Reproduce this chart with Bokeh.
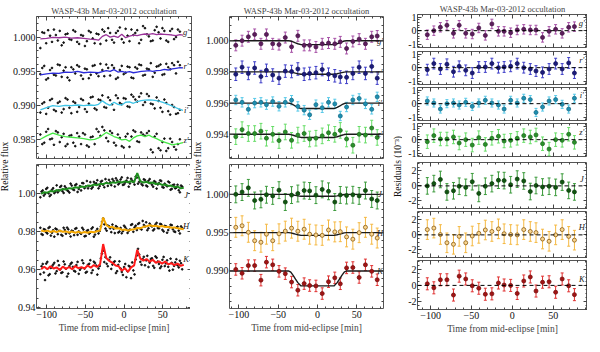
import numpy as np
from bokeh.plotting import figure
from bokeh.layouts import row, column
from bokeh.models import (ColumnDataSource, Whisker, TeeHead, Span, LinearAxis,
                          SingleIntervalTicker, NumeralTickFormatter, Range1d)
from bokeh.core.properties import value
from bokeh.embed import file_html
from bokeh.resources import INLINE

FONT = "Liberation Serif"
TITLE = "WASP-43b Mar-03-2012 occultation"
XLABEL = "Time from mid-eclipse [min]"

# ---------------- data ----------------
# left-top: raw optical light curves (deviation from display offset, ppt)
t_top_line = [-108, -100, -92, -84, -76, -68, -60, -52, -44, -38, -33, -28, -23, -18, -13, -8, -3,
              2, 7, 12, 17, 22, 27, 32, 37, 42, 47, 52, 57, 62, 67, 72, 76]
g_line = [-0.25, -0.2, -0.05, -0.1, 0.0, -0.15, -0.1, -0.2, -0.3, -0.35, -0.45, 0.1, 0.35, 0.0, 0.15, -0.05, 0.4,
          -0.1, 0.15, 0.3, 0.2, 0.35, 0.45, 0.4, 0.5, 0.35, 0.45, 0.4, 0.35, 0.3, 0.2, 0.35, 0.3]
r_line = [-0.5, -0.35, -0.25, -0.3, -0.1, -0.15, 0.0, -0.2, -0.1, -0.15, -0.2, -0.05, 0.1, 0.0, 0.25, -0.1, 0.0,
          -0.15, -0.05, -0.2, -0.1, 0.0, 0.05, 0.1, 0.0, 0.1, 0.15, 0.3, 0.2, 0.35, 0.45, 0.55, 0.5]
i_line = [-0.6, -0.3, 0.0, -0.1, 0.05, 0.0, 0.1, 0.0, 0.1, 0.05, 0.2, 0.7, 0.3, 0.05, 0.5, 0.2, 0.1,
          0.5, 0.55, 0.35, 0.6, 0.75, 0.8, 0.85, 0.8, 0.75, 0.6, 0.4, 0.2, -0.05, -0.3, -0.55, -0.7]
z_line = [0.1, 0.6, 1.0, 0.7, 0.5, 0.4, 0.3, 0.2, 0.0, 0.1, 0.3, 0.7, 1.1, 0.8, 0.5, 0.3, 0.0,
          0.1, -0.2, 0.3, 0.6, 0.7, 0.5, 0.7, 0.4, 0.2, -0.1, -0.3, -0.5, -0.7, -0.6, -0.5, -0.4]

t_top_dots = [-108, -103, -98, -93, -88, -83, -78, -73, -68, -63, -58, -53, -48, -43, -38, -33, -28, -23,
              -18, -13, -8, -3, 2, 7, 12, 17, 22, 27, 32, 37, 42, 47, 52, 57, 62, 67, 72]
g_dots = [-1.6, 0.6, 1.0, -0.7, 0.3, 0.9, -0.8, 0.5, -0.4, 0.8, -1.0, 0.2, -0.6, 0.7, -0.9, 0.4, 1.1, -0.5,
          0.6, -0.8, 0.9, -0.3, 1.2, -0.6, 0.3, 1.0, -0.4, 1.3, 0.1, -0.5, 1.5, -0.2, 0.9, -0.7, 1.2, 0.0, 0.8]
r_dots = [-0.4, 0.8, -1.0, 0.5, -0.6, 0.9, 0.1, -0.9, 0.6, -0.3, 0.7, -1.1, 0.3, -0.5, 0.9, -0.7, 0.2, 1.0,
          -0.6, 0.5, -0.9, 0.8, -0.2, 0.6, -1.0, 0.4, 0.9, -0.5, 0.3, -0.8, 0.7, 1.0, -0.4, 0.6, 1.2, -0.3, 0.9]
i_dots = [-1.0, 0.5, -0.3, 1.0, -0.8, 0.6, -0.5, 0.9, -1.1, 0.4, -0.2, 0.8, -0.9, 1.2, -0.4, 0.9, 1.5, -0.3,
          0.8, -0.6, 1.1, 0.2, 1.0, -0.2, 1.3, 0.6, 1.8, 0.5, 1.4, 0.2, 1.2, -0.3, 0.9, -0.8, 0.1, -1.2, -0.6]
z_dots = [0.8, -0.4, 1.6, 0.2, 1.3, -0.3, 0.9, -0.6, 0.7, -0.9, 0.5, 1.0, -0.8, 0.4, -0.6, 1.2, 1.9, 0.3,
          1.3, -0.4, 0.8, -0.9, 0.5, -1.0, 1.4, -0.2, 1.1, 0.6, 1.3, -1.8, 0.9, -1.5, 0.2, -1.2, -0.3, -1.4, 0.1]
t_top_dots2 = [-105.5, -100.5, -95.5, -90.5, -85.5, -80.5, -75.5, -70.5, -65.5, -60.5, -55.5, -50.5,
               -45.5, -40.5, -35.5, -30.5, -25.5, -20.5, -15.5, -10.5, -5.5, -0.5, 4.5, 9.5, 14.5, 19.5,
               24.5, 29.5, 34.5, 39.5, 44.5, 49.5, 54.5, 59.5, 64.5, 69.5]
g_dots2 = [0.7, -0.9, 0.2, 1.1, -0.5, -1.2, 0.4, -0.3, 1.0, -0.7, 0.3, -1.3, 0.9, -0.2, 0.5, -1.0, 0.8, 1.3,
           -0.4, 0.6, 1.4, -0.8, 0.2, 1.1, 0.6, -0.9, 1.6, 0.4, -0.6, 1.0, 0.7, 1.3, -0.5, 0.9, -0.3, 1.1]
r_dots2 = [0.5, -1.2, 0.2, -0.5, 1.0, -0.8, 0.6, -1.3, 0.3, 0.9, -0.6, 0.4, -1.0, 0.8, -0.3, 1.1, -0.7, 0.5,
           0.9, -1.1, 0.2, -0.4, 0.7, -0.9, 0.6, 1.0, -0.6, 0.4, 1.2, -0.2, 0.8, -0.5, 1.1, 0.3, 0.9, 1.4]
i_dots2 = [0.3, -1.2, 0.8, -0.6, 0.4, -1.0, 1.1, -0.3, 0.6, -0.9, 1.0, -0.5, 0.3, 1.3, -0.6, 0.8, -0.2, 1.2,
           0.2, 1.5, 0.4, 1.1, -0.1, 1.6, 0.9, 1.3, 0.1, 1.7, 0.3, -0.4, 0.7, -0.9, 0.4, -1.3, -0.2, -1.1]
z_dots2 = [-0.6, 1.2, 0.1, -0.7, 1.1, 0.4, -0.9, 0.6, -0.4, 1.0, -0.6, 0.8, -1.0, 0.5, 1.6, 0.6, 1.4, -0.2,
           1.0, -0.8, 0.3, -1.1, 0.9, 0.5, 1.2, -0.3, 0.8, 1.0, -1.4, 0.5, -1.2, -0.3, -1.6, 0.2, -1.0, -0.6]

# left-bottom: raw near-IR light curves (ppt)
t_bot_line = [-107, -103, -99, -95, -91, -87, -83, -79, -75, -71, -67, -63, -59, -55, -51, -47, -43, -39,
              -35, -31, -27, -23, -19, -15, -11, -7, -3, 1, 5, 9, 13, 17, 21, 25, 29, 33, 37, 41, 45, 49,
              53, 57, 61, 65, 69, 73, 77]
J_line = [0.0, 0.9, 0.6, 1.5, 1.2, 2.0, 1.7, 2.6, 2.3, 3.0, 2.8, 3.5, 3.2, 3.9, 3.6, 4.4, 4.2, 4.9, 4.6, 5.3,
          5.1, 5.8, 5.4, 6.1, 5.8, 6.5, 6.0, 6.6, 6.1, 6.7, 6.2, 11.0, 6.6, 6.0, 6.4, 5.6, 6.0, 5.2, 5.5, 4.7,
          5.0, 4.2, 4.4, 3.6, 3.9, 2.9, 3.2]
H_line = [0.7, 0.2, 0.6, -0.1, 0.4, -0.2, 0.5, 0.0, 0.2, -0.4, 0.1, -0.5, 0.0, -0.6, -0.1, -0.5, 0.0, -0.3,
          0.3, 0.6, 7.5, 3.6, 2.4, 2.6, 1.7, 1.9, 1.0, 1.2, 0.6, 1.1, 1.3, 2.0, 1.8, 2.6, 2.9, 3.4, 3.0, 3.2,
          2.7, 3.0, 2.5, 2.6, 2.1, 2.3, 1.8, 1.6, 1.3]
K_line = [0.3, 1.5, 0.2, 1.8, 0.6, 1.2, -0.2, 1.6, 0.4, 1.4, 0.2, 1.9, 0.8, 1.3, 0.6, 2.2, 1.0, 2.4, 1.4, 2.8,
          13.5, 6.2, 4.6, 3.6, 2.2, 1.8, -0.6, 0.8, -1.2, 1.2, 2.3, 10.5, 5.8, 4.8, 5.6, 4.2, 5.2, 3.6, 4.4,
          3.2, 4.3, 2.8, 3.4, 2.4, 3.2, 2.0, 2.6]

t_bot_dots = [-108, -105, -102, -99, -96, -93, -90, -87, -84, -81, -78, -75, -72, -69, -66, -63, -60, -57,
              -54, -51, -48, -45, -42, -39, -36, -33, -30, -27, -24, -21, -18, -15, -12, -9, -6, -3, 0, 3,
              6, 9, 12, 15, 18, 21, 24, 27, 30, 33, 36, 39, 42, 45, 48, 51, 54, 57, 60, 63, 66, 69, 72, 75]
J_dots = [-1.8, 1.8, 0.0, 3.2, -1.2, 2.2, 0.4, 4.5, 1.8, 4.2, 0.5, 3.1, 1.4, 5.4, 2.4, 4.6, 1.0, 4.1, 5.7, 3.0,
          6.8, 4.1, 2.8, 6.3, 5.6, 2.9, 6.4, 4.8, 7.8, 4.2, 6.1, 7.8, 3.9, 7.1, 5.7, 8.7, 5.0, 7.0, 3.8, 8.0,
          6.2, 9.1, 5.4, 6.7, 4.5, 7.3, 3.9, 7.8, 4.8, 6.7, 2.8, 5.7, 6.8, 3.3, 4.6, 6.5, 2.2, 4.6, 2.9, 4.8,
          0.8, 3.8]
H_dots = [2.1, -1.6, 1.1, -0.9, 2.5, -0.5, -2.6, 1.3, 0.5, -1.6, 2.1, -1.0, 1.3, -2.5, 0.3, 1.6, -1.6, -0.5,
          2.1, -2.4, 0.5, -1.0, 1.6, -2.6, 0.5, -0.9, 2.8, 7.0, 1.7, 3.3, 1.8, 3.8, -0.7, 2.4, 0.1, -0.8, 3.2,
          1.4, 0.5, 3.6, 0.0, 3.2, 4.1, 1.7, 5.7, 2.8, 0.8, 4.3, 2.8, 1.4, 4.7, 1.8, 3.9, 0.2, 2.9, 0.9, 3.7,
          1.3, -0.1, 2.7, -0.9, 1.9]
K_dots = [-2.4, 3.0, -5.5, 4.1, -2.4, 1.7, 3.6, -0.8, 2.3, -1.7, 4.3, 0.5, -2.1, 3.0, 1.5, -1.0, 4.1, -0.1,
          4.9, 0.6, -1.1, 3.1, -1.7, 4.2, 2.2, 0.6, 6.0, 10.0, 6.6, 1.8, 6.5, 2.7, 4.4, -0.8, 4.4, -1.2, 1.4,
          -4.0, 2.0, -4.5, -0.4, 5.4, 11.0, 4.1, 5.6, 2.3, 7.3, 3.7, 6.0, 1.0, 6.3, 3.0, 1.7, 6.7, 3.3, 1.5,
          5.8, 0.0, 3.8, 2.3, 4.7, 0.2]
t_bot_dots2 = [-106.5, -103.5, -100.5, -97.5, -94.5, -91.5, -88.5, -85.5, -82.5, -79.5, -76.5, -73.5, -70.5,
               -67.5, -64.5, -61.5, -58.5, -55.5, -52.5, -49.5, -46.5, -43.5, -40.5, -37.5, -34.5, -31.5,
               -28.5, -25.5, -22.5, -19.5, -16.5, -13.5, -10.5, -7.5, -4.5, -1.5, 1.5, 4.5, 7.5, 10.5, 13.5,
               16.5, 19.5, 22.5, 25.5, 28.5, 31.5, 34.5, 37.5, 40.5, 43.5, 46.5, 49.5, 52.5, 55.5, 58.5, 61.5,
               64.5, 67.5, 70.5, 73.5]
J_dots2 = [1.2, -0.9, 2.6, 0.3, -0.5, 3.0, 1.1, 0.8, 3.6, 1.4, 4.0, 1.9, 0.7, 4.4, 2.0, 5.1, 2.6, 1.8, 5.6, 3.9,
           2.9, 6.2, 3.6, 5.3, 7.2, 4.1, 6.9, 3.5, 5.9, 7.4, 4.6, 6.8, 8.2, 5.0, 7.6, 4.7, 6.0, 8.4, 5.5, 7.0,
           4.9, 8.6, 6.4, 5.2, 7.7, 4.4, 6.9, 5.8, 3.8, 6.2, 5.0, 7.1, 3.6, 5.4, 4.0, 6.0, 2.6, 4.9, 3.3, 1.9,
           4.4]
H_dots2 = [-1.2, 1.4, -0.3, 2.0, -2.0, 0.8, 1.7, -1.3, 0.4, -2.1, 1.0, 2.2, -0.8, 0.6, -1.8, 1.9, 0.2, -1.1,
           1.2, -2.2, 0.9, -0.4, 2.3, -1.5, 1.5, 0.4, 5.2, 3.9, 0.6, 2.9, -0.2, 1.6, 3.0, -0.4, 2.0, 0.3, 2.4,
           -0.6, 1.2, 4.0, 2.3, 0.9, 4.6, 1.2, 3.6, 5.0, 1.8, 3.3, 0.7, 3.9, 2.0, 4.2, 1.0, 3.1, -0.5, 2.4, 3.5,
           0.2, 2.2, 0.6, 2.8]
K_dots2 = [1.8, -1.5, 3.2, -3.0, 0.9, 2.7, -2.0, 4.6, 0.1, -1.4, 2.8, -3.6, 1.9, 3.7, -0.6, 2.4, -2.2, 0.8,
           3.4, -1.6, 2.6, 5.0, -0.3, 3.5, -2.6, 1.9, 8.5, 4.0, 3.1, 5.2, 0.4, 3.9, -1.8, 2.5, 0.6, -2.8, 3.0,
           -0.9, 1.6, 3.8, -2.5, 7.5, 8.0, 2.6, 6.8, 4.9, 1.4, 5.6, 2.0, 7.0, 4.3, 0.8, 5.2, 1.9, 4.9, -0.5,
           3.6, 2.0, 5.5, 1.2, 3.4]

# binned data: times, eclipse fraction at the bins, residuals (1e-3) and errors
t_bin = [-104, -96, -88, -80, -72, -65, -57, -49, -41, -33, -25, -17, -10, -2, 6, 14, 22, 29, 37, 45, 53, 61, 69, 76]
ecl_bin = [0, 0, 0, 0, 0, 0, 0, 0, 0, 0.18, 0.75, 1, 1, 1, 1, 1, 1, 0.5, 0, 0, 0, 0, 0, 0]
res_g = [-0.3, 0.0, 0.25, 0.4, -0.2, 0.4, -0.2, -0.25, 0.2, -0.35, 0.5, -0.05, -0.05, -0.15, 0.05, 0.1, 0.05, 0.05, -0.5, -0.05, 0.1, -0.2, 0.25, 0.3]
res_r = [-0.15, 0.3, -0.1, 0.25, -0.3, 0.1, -0.2, -0.4, 0.05, 0.05, 0.3, 0.0, 0.05, 0.1, 0.3, 0.0, -0.1, -0.25, -0.35, -0.1, 0.3, -0.1, 0.35, -0.4]
res_i = [0.2, 0.05, -0.4, 0.0, 0.05, -0.1, 0.1, -0.2, 0.05, 0.25, 0.05, -0.1, -0.4, 0.25, 0.05, 0.4, 0.3, -0.65, -0.25, 0.2, 0.3, -0.05, -0.4, 0.4]
res_z = [-0.15, 0.3, 0.05, 0.05, 0.2, -0.25, 0.0, -0.4, 0.15, -0.35, 0.1, 0.25, -0.1, -0.05, 0.1, 0.3, 0.2, 0.35, -0.3, -0.7, 0.0, -0.05, 0.4, -0.2]
res_J = [0.0, 0.3, 0.85, -0.8, -0.65, -0.05, -0.2, 0.55, -1.0, -0.05, 0.3, 0.75, 0.7, 0.15, 0.9, 0.65, -0.75, 0.05, -0.15, -0.05, -0.2, 0.5, -0.6, -0.8]
res_H = [0.7, 0.9, 0.05, -1.05, -1.25, -0.2, -1.05, -0.15, 0.2, 0.65, 0.45, 0.8, 0.15, 0.05, 0.0, 0.7, 0.45, 0.3, -0.55, -0.85, 0.0, 0.7, -0.2, -0.7]
res_K = [0.2, -0.3, 0.7, 0.7, -1.2, 1.15, 0.8, -0.05, -0.35, -1.1, -1.05, 0.3, 0.05, 0.0, -1.0, 0.55, 1.05, -0.7, 0.4, 0.45, -0.85, 0.8, -0.05, -1.15]
err_ppt = [0.35, 0.4, 0.3, 0.5, 1.1, 1.3, 0.75]          # g r i z J H K
depth_ppt = [0.25, 0.15, 0.35, 0.2, 0.25, 0.35, 1.95]     # eclipse depths

# eclipse model shape
model_t = [-112, -37, -34, -31, -28, -25, -21, 21, 25, 28, 31, 34, 37, 84]
model_shape = [0, 0, 0.08, 0.3, 0.55, 0.78, 1, 1, 0.78, 0.55, 0.3, 0.08, 0, 0]

band_names = ["g′", "r′", "i′", "z′", "J", "H", "K"]
left_offsets = [1.000, 0.995, 0.990, 0.985, 1.00, 0.98, 0.96]
mid_bases = [1.000, 0.998, 0.996, 0.994, 1.000, 0.995, 0.990]
left_label_y = [1.0008, 0.9958, 0.9893, 0.9850, 0.9995, 0.9830, 0.9657]
right_label_y = [0.55, 0.6, 0.65, 0.6, 0.85, 1.05, 0.85]

line_col = ["#9a3399", "#2b2bd9", "#3ec4e6", "#44e844", "#1f8f1f", "#f4a700", "#ff1a1a"]
err_col = ["#a650a6", "#3c3cc8", "#55c8e8", "#66dd66", "#3a9a3a", "#f5b840", "#e03030"]
mk_fill = ["#5c1e5c", "#1c1c7a", "#1f8fb0", "#2a8f2a", "#115511", "#f8d590", "#a01515"]
mk_line = ["#4a154a", "#141460", "#176f8a", "#1f6f1f", "#0c400c", "#8a5a10", "#7a0f0f"]

res_all = [res_g, res_r, res_i, res_z, res_J, res_H, res_K]
top_lines = [g_line, r_line, i_line, z_line]
top_dots = [g_dots, r_dots, i_dots, z_dots]
top_dots2 = [g_dots2, r_dots2, i_dots2, z_dots2]
bot_lines = [J_line, H_line, K_line]
bot_dots = [J_dots, H_dots, K_dots]
bot_dots2 = [J_dots2, H_dots2, K_dots2]

# ---------------- helpers ----------------
AX = "#444444"


def style_axis(ax, interval, minor, labels, fmt=None):
    ax.ticker = SingleIntervalTicker(interval=interval, num_minor_ticks=minor)
    ax.axis_line_color = None
    ax.major_tick_in = 4
    ax.major_tick_out = 0
    ax.minor_tick_in = 2
    ax.minor_tick_out = 0
    ax.major_tick_line_color = AX
    ax.minor_tick_line_color = AX
    ax.major_label_text_font = FONT
    ax.major_label_text_font_size = "10px"
    if labels:
        ax.major_label_text_color = "#111111"
        ax.major_label_standoff = 1
    else:
        ax.major_label_text_color = None
        ax.major_label_standoff = 0
    if fmt is not None:
        ax.formatter = NumeralTickFormatter(format=fmt)


def panel(xr, yr, fw, fh, bl, br, bt, bb, yint, yminor, yfmt, xlabels=False, title=None):
    p = figure(frame_width=fw, frame_height=fh, x_range=Range1d(*xr), y_range=Range1d(*yr),
               min_border_left=bl, min_border_right=br, min_border_top=bt, min_border_bottom=bb,
               output_backend="svg", toolbar_location=None, title=title)
    p.grid.visible = False
    p.outline_line_color = "#555555"
    p.outline_line_width = 1
    style_axis(p.xaxis[0], 50, 5, xlabels)
    style_axis(p.yaxis[0], yint, yminor, True, yfmt)
    if xlabels:
        p.xaxis[0].axis_label = XLABEL
        p.xaxis[0].axis_label_text_font = FONT
        p.xaxis[0].axis_label_text_font_size = "9.5px"
        p.xaxis[0].axis_label_text_font_style = "normal"
        p.xaxis[0].axis_label_standoff = 2
        p.xaxis[0].major_label_standoff = 2
    top = LinearAxis()
    style_axis(top, 50, 5, False)
    p.add_layout(top, "above")
    rgt = LinearAxis()
    style_axis(rgt, yint, yminor, False)
    p.add_layout(rgt, "right")
    if title is not None:
        p.title.text_font = FONT
        p.title.text_font_size = "8.5px"
        p.title.text_font_style = "normal"
        p.title.align = "center"
        p.title.standoff = 2
    return p


def band_label(p, x, y, txt):
    p.text(x=[x], y=[y], text=[txt], text_font=value(FONT), text_font_style="italic",
           text_font_size="8.5px", text_align="center", text_baseline="middle", text_color="#222222")


def err_points(p, t, y, e, k):
    src = ColumnDataSource(dict(t=t, y=y, lo=y - e, hi=y + e))
    p.add_layout(Whisker(source=src, base="t", upper="hi", lower="lo", line_color=err_col[k], line_width=1,
                         upper_head=TeeHead(size=3, line_color=err_col[k], line_width=1),
                         lower_head=TeeHead(size=3, line_color=err_col[k], line_width=1)))
    p.scatter("t", "y", source=src, size=4, fill_color=mk_fill[k], line_color=mk_line[k], line_width=0.8)


def label_fig(w, txt, xc, yc):
    p = figure(width=w, height=336, x_range=Range1d(0, w), y_range=Range1d(0, 336),
               x_axis_type=None, y_axis_type=None, min_border=0,
               output_backend="svg", toolbar_location=None)
    p.outline_line_color = None
    p.grid.visible = False
    p.text(x=[xc], y=[336 - yc], text=[txt], angle=np.pi / 2, text_align="center",
           text_baseline="middle", text_font=value(FONT), text_font_size="9.5px", text_color="#111111")
    return p


# ---------------- left column ----------------
LX = (-113, 87)
pLT = panel(LX, (0.9823, 1.0030), 155, 142, 24, 2, 16, 3, 0.005, 5, "0.000", title=TITLE)
for k in range(4):
    off = left_offsets[k]
    pLT.scatter(t_top_dots, [off + v * 1e-3 for v in top_dots[k]], size=1.7, color="#111111")
    pLT.scatter(t_top_dots2, [off + v * 1e-3 for v in top_dots2[k]], size=1.7, color="#111111")
    pLT.line(t_top_line, [off + v * 1e-3 for v in top_lines[k]], line_color=line_col[k], line_width=1.3)
    band_label(pLT, 80, left_label_y[k], band_names[k])

pLB = panel(LX, (0.9395, 1.0155), 155, 144, 24, 2, 3, 28, 0.02, 4, "0.00", xlabels=True)
for j in range(3):
    k = j + 4
    off = left_offsets[k]
    pLB.scatter(t_bot_dots, [off + v * 1e-3 for v in bot_dots[j]], size=1.7, color="#111111")
    pLB.scatter(t_bot_dots2, [off + v * 1e-3 for v in bot_dots2[j]], size=1.7, color="#111111")
    pLB.line(t_bot_line, [off + v * 1e-3 for v in bot_lines[j]], line_color=line_col[k], line_width=2)
    band_label(pLB, 80, left_label_y[k], band_names[k])

# ---------------- middle column ----------------
MX = (-112, 84)
pMT = panel(MX, (0.99245, 1.00155), 154, 142, 27, 2, 16, 3, 0.002, 4, "0.000", title=TITLE)
pMB = panel(MX, (0.9851, 1.0039), 154, 144, 27, 2, 3, 28, 0.005, 5, "0.000", xlabels=True)
tb = np.array(t_bin, dtype=float)
eb = np.array(ecl_bin, dtype=float)
for k in range(7):
    p = pMT if k < 4 else pMB
    base = mid_bases[k]
    p.line(model_t, [base - depth_ppt[k] * s * 1e-3 for s in model_shape], line_color="#1a1a1a", line_width=1.4)
    y = base + (np.array(res_all[k]) - depth_ppt[k] * eb) * 1e-3
    err_points(p, tb, y, err_ppt[k] * 1e-3, k)
    band_label(p, 79.5, base, band_names[k])

# ---------------- right column ----------------
RX = (-116, 92)
specs = [  # frame height, border top, border bottom
    (33, 13, 3), (33, 1, 2), (33, 1, 2), (33, 1, 5), (46, 1, 2), (46, 1, 2), (49, 1, 28)]
right_figs = []
for k in range(7):
    fh, bt, bb = specs[k]
    if k < 4:
        yr, yint, ymin = (-1.25, 1.2), 1, 5
    else:
        yr, yint, ymin = (-3.0, 3.1), 2, 4
    p = panel(RX, yr, 170, fh, 15, 0, bt, bb, yint, ymin, "0", xlabels=(k == 6),
              title=TITLE if k == 0 else None)
    p.add_layout(Span(location=0, dimension="width", line_color="black", line_dash="4 3", line_width=1))
    r = np.array(res_all[k])
    err_points(p, tb, r, err_ppt[k], k)
    band_label(p, 85, right_label_y[k], band_names[k])
    right_figs.append(p)

labL = label_fig(9, "Relative flux", 4.5, 166)
labM = label_fig(9, "Relative flux", 4.5, 166)
labR = label_fig(17, "Residuals (10⁻³)", 12, 166)

layout = row(labL, column(pLT, pLB), labM, column(pMT, pMB), labR, column(*right_figs))

open("out.html", "w").write(file_html(layout, INLINE))
